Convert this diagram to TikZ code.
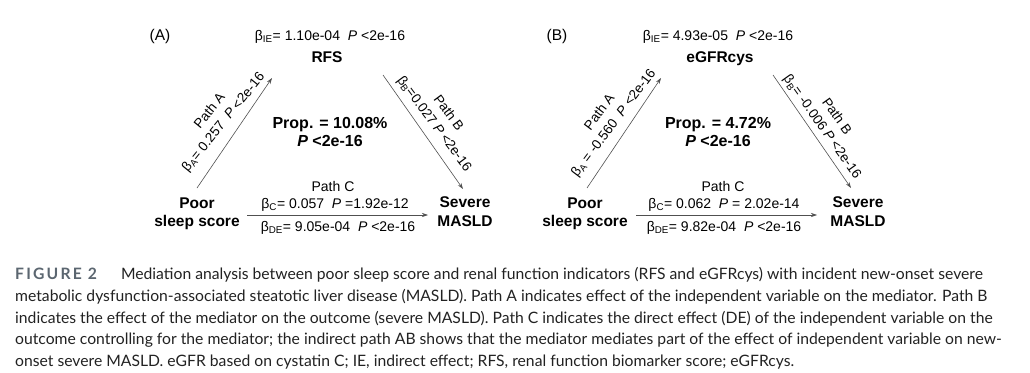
\documentclass[tikz,border=0pt]{standalone}
\usepackage{fontspec}
\setmainfont{Liberation Sans}
\newfontfamily\capfont{Lato}
\newfontfamily\figfont[LetterSpace=14]{Lato}
\usetikzlibrary{arrows.meta}
\definecolor{figcol}{HTML}{5B6670}
\definecolor{captxt}{HTML}{222222}
\definecolor{arrcol}{HTML}{505050}
\tikzset{
  lbl/.style={font=\fontsize{14}{16}\selectfont, inner sep=0pt, anchor=base},
  panel/.style={font=\fontsize{15.5}{18}\selectfont, inner sep=0pt, anchor=base},
  var/.style={font=\fontsize{15.5}{18}\selectfont\bfseries, inner sep=0pt, anchor=base},
  prop/.style={font=\fontsize{16}{18}\selectfont\bfseries, inner sep=0pt, anchor=base},
  pathlbl/.style={font=\fontsize{13.5}{17.5}\selectfont, inner sep=0pt, align=center},
  arr/.style={draw=arrcol, line width=0.6pt, -{Stealth[length=6pt,width=4pt]}},
  captionline/.style={font=\capfont\fontsize{15.7}{22}\selectfont, text=captxt, inner sep=0pt, anchor=base west},
}
\begin{document}
\begin{tikzpicture}[x=1pt,y=-1pt]
\useasboundingbox (0,0) rectangle (1030,372);
% ---------------- Panel A ----------------
\node[panel] (pA) at (160,40.7) {(A)};
\node[lbl] (ieA) at (330,40.7) {β\textsubscript{IE}= 1.10e-04\ \ \textit{P} <2e-16};
\node[var] (mA) at (327,62.7) {RFS};
\node[var] (xA1) at (197,208.3) {Poor};
\node[var] (xA2) at (197,226.7) {sleep score};
\node[var] (yA1) at (465,207.5) {Severe};
\node[var] (yA2) at (465,226) {MASLD};
\node[prop] (prA1) at (330,128.3) {Prop. = 10.08\%};
\node[prop] (prA2) at (330,146.7) {\textit{P} <2e-16};
\coordinate (aA0) at (197,188);
\coordinate (aA1) at (272,78);
\coordinate (bA0) at (383,75);
\coordinate (bA1) at (463,189);
\coordinate (cA0) at (247,215);
\coordinate (cA1) at (428,215);
\draw[arr] (aA0) -- (aA1);
\draw[arr] (bA0) -- (bA1);
\draw[arr] (cA0) -- (cA1);
\node[lbl] (pcA) at (333,191.7) {Path C};
\node[lbl] (bcA) at (335,208.3) {β\textsubscript{C}= 0.057\ \ \textit{P} =1.92e-12};
\node[lbl] (bdA) at (338,231.7) {β\textsubscript{DE}= 9.05e-04\ \ \textit{P} <2e-16};
\node[pathlbl, rotate=51] (laA) at (217,117) {Path A\\β\textsubscript{A}= 0.257\ \ \textit{P} <2e-16};
\node[pathlbl, rotate=-53.5] (lbA) at (441,119) {Path B\\β\textsubscript{B}=0.027 \textit{P} <2e-16};
% ---------------- Panel B ----------------
\node[panel] (pB) at (557,40.7) {(B)};
\node[lbl] (ieB) at (718,40.7) {β\textsubscript{IE}= 4.93e-05\ \ \textit{P} <2e-16};
\node[var] (mB) at (720,62.7) {eGFRcys};
\node[var] (xB1) at (585,208.3) {Poor};
\node[var] (xB2) at (585,226.7) {sleep score};
\node[var] (yB1) at (858,207.5) {Severe};
\node[var] (yB2) at (858,226) {MASLD};
\node[prop] (prB1) at (718,128.3) {Prop. = 4.72\%};
\node[prop] (prB2) at (718,146.7) {\textit{P} <2e-16};
\coordinate (aB0) at (587,188);
\coordinate (aB1) at (661,78);
\coordinate (bB0) at (773,75);
\coordinate (bB1) at (851,188);
\coordinate (cB0) at (636,215);
\coordinate (cB1) at (817,215);
\draw[arr] (aB0) -- (aB1);
\draw[arr] (bB0) -- (bB1);
\draw[arr] (cB0) -- (cB1);
\node[lbl] (pcB) at (723,191.7) {Path C};
\node[lbl] (bcB) at (724,208.3) {β\textsubscript{C}= 0.062\ \ \textit{P} = 2.02e-14};
\node[lbl] (bdB) at (724,231.7) {β\textsubscript{DE}= 9.82e-04\ \ \textit{P} <2e-16};
\node[pathlbl, rotate=53] (laB) at (607,118) {Path A\\β\textsubscript{A} = -0.560\ \ \textit{P} <2e-16};
\node[pathlbl, rotate=-54.5] (lbB) at (829,122) {Path B\\β\textsubscript{B}= -0.006 \textit{P} <2e-16};
% ---------------- Caption ----------------
\node[captionline] (c1) at (15,279.3) {{\color{figcol}\figfont\bfseries FIGURE 2}\hspace{24pt}Mediation analysis between poor sleep score and renal function indicators (RFS and eGFRcys) with incident new-onset severe};
\node[captionline] (c2) at (15,301.2) {metabolic dysfunction-associated steatotic liver disease (MASLD). Path A indicates effect of the independent variable on the mediator. Path B};
\node[captionline] (c3) at (15,323.0) {indicates the effect of the mediator on the outcome (severe MASLD). Path C indicates the direct effect (DE) of the independent variable on the};
\node[captionline] (c4) at (15,344.9) {outcome controlling for the mediator; the indirect path AB shows that the mediator mediates part of the effect of independent variable on new-};
\node[captionline] (c5) at (15,366.7) {onset severe MASLD. eGFR based on cystatin C; IE, indirect effect; RFS, renal function biomarker score; eGFRcys.};
\end{tikzpicture}
\end{document}
